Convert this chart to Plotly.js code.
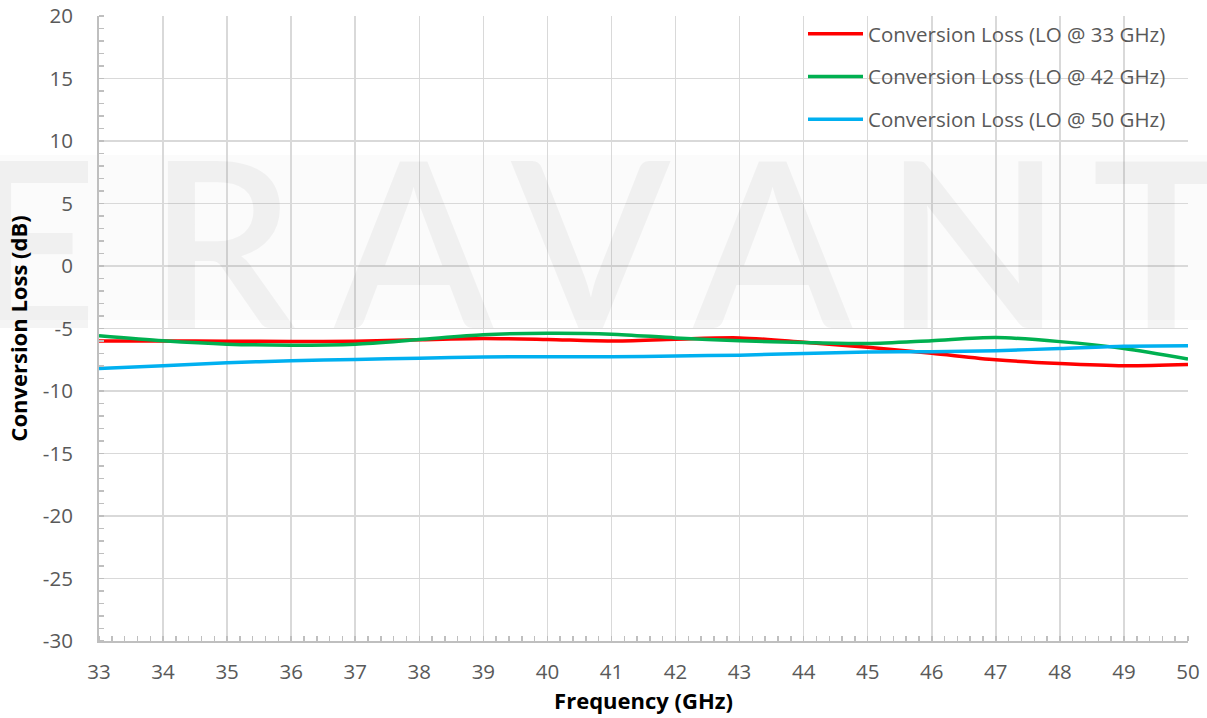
<!DOCTYPE html>
<html>
<head>
<meta charset="utf-8">
<script src="https://cdn.plot.ly/plotly-3.0.1.min.js"></script>
<style>html,body{margin:0;padding:0;background:#fff;}#chart{width:1207px;height:718px;}</style>
</head>
<body>
<div id="chart"></div>
<script>
// ---- data ----
const frequencies = [33,34,35,36,37,38,39,40,41,42,43,44,45,46,47,48,49,50];
const lossLO33 = [-6.0,-6.0,-6.02,-6.03,-6.02,-5.9,-5.8,-5.88,-6.0,-5.85,-5.75,-6.1,-6.5,-6.98,-7.5,-7.8,-7.98,-7.88];
const lossLO42 = [-5.58,-5.98,-6.25,-6.33,-6.25,-5.88,-5.5,-5.38,-5.45,-5.75,-5.98,-6.12,-6.2,-5.97,-5.72,-6.05,-6.6,-7.44];
const lossLO50 = [-8.19,-7.98,-7.74,-7.58,-7.47,-7.37,-7.28,-7.26,-7.26,-7.2,-7.13,-7.0,-6.88,-6.85,-6.77,-6.6,-6.42,-6.38];
const seriesNames = ['Conversion Loss (LO @ 33 GHz)','Conversion Loss (LO @ 42 GHz)','Conversion Loss (LO @ 50 GHz)'];
const xTicks = [33,34,35,36,37,38,39,40,41,42,43,44,45,46,47,48,49,50];
const yTicks = [-30,-25,-20,-15,-10,-5,0,5,10,15,20];
const xTitle = 'Frequency (GHz)';
const yTitle = 'Conversion Loss (dB)';
const watermark = 'ERAVANT';

// ---- layout helpers ----
const W = 1207, H = 718;
const m = {l:99, r:19, t:16, b:77};
const pw = W - m.l - m.r, ph = H - m.t - m.b;
const px = x => (x - m.l) / pw;
const py = y => (H - m.b - y) / ph;

const colors = ['#ff0000','#00b050','#00b0f0'];
const seriesData = [lossLO33, lossLO42, lossLO50];
const traces = seriesData.map((ys,i)=>({
  x: frequencies, y: ys, name: seriesNames[i], type:'scatter', mode:'lines',
  line:{color:colors[i], width:3.5, shape:'spline', smoothing:0.8},
  legendgroup:'g'+i
}));

const wmCenters = [31,221,413,590,772,973,1161];
const annotations = watermark.split('').map((ch,i)=>({
  text: ch, xref:'paper', yref:'paper', x: px(wmCenters[i]), y: py(238),
  xanchor:'center', yanchor:'middle', showarrow:false,
  font:{family:'Lato', size:232, color:'rgba(0,0,0,0.045)', weight:600}
}));

const axisCommon = {
  showgrid:true, gridcolor:'#d9d9d9', gridwidth:1.5,
  showline:true, linecolor:'#bfbfbf', linewidth:2,
  zeroline:false, ticks:'',
  tickfont:{family:'Open Sans', size:20.5, color:'#595959'},
  minor:{ticks:'inside', ticklen:5, tickcolor:'#bfbfbf', tickwidth:1.5, showgrid:false}
};

const layout = {
  width:W, height:H, margin:m,
  paper_bgcolor:'#ffffff', plot_bgcolor:'rgba(0,0,0,0)',
  showlegend:true,
  legend:{x:px(1171), xanchor:'right', y:py(14), yanchor:'top',
    bgcolor:'rgba(0,0,0,0)', font:{family:'Open Sans', size:20.5, color:'#595959'},
    traceorder:'grouped', tracegroupgap:13, itemwidth:55},
  xaxis: Object.assign({}, axisCommon, {
    range:[33,50], tickmode:'array', tickvals:xTicks, ticktext:xTicks.map(String),
    ticklabelstandoff:11,
    minor:Object.assign({}, axisCommon.minor, {dtick:0.2}),
    title:{text:xTitle, standoff:10, font:{family:'Open Sans', size:22, color:'#000', weight:'bold'}}
  }),
  yaxis: Object.assign({}, axisCommon, {
    range:[-30,20], tickmode:'array', tickvals:yTicks, ticktext:yTicks.map(String),
    ticklabelstandoff:20,
    minor:Object.assign({}, axisCommon.minor, {dtick:1}),
    title:{text:yTitle, standoff:9, font:{family:'Open Sans', size:22, color:'#000', weight:'bold'}}
  }),
  shapes:[{type:'rect', xref:'paper', yref:'paper', x0:px(0), x1:px(W), y0:py(320), y1:py(155),
    fillcolor:'#fbfbfb', line:{width:0}, layer:'below'}],
  annotations: annotations
};

Plotly.newPlot('chart', traces, layout, {displayModeBar:false, staticPlot:true});
</script>
</body>
</html>
